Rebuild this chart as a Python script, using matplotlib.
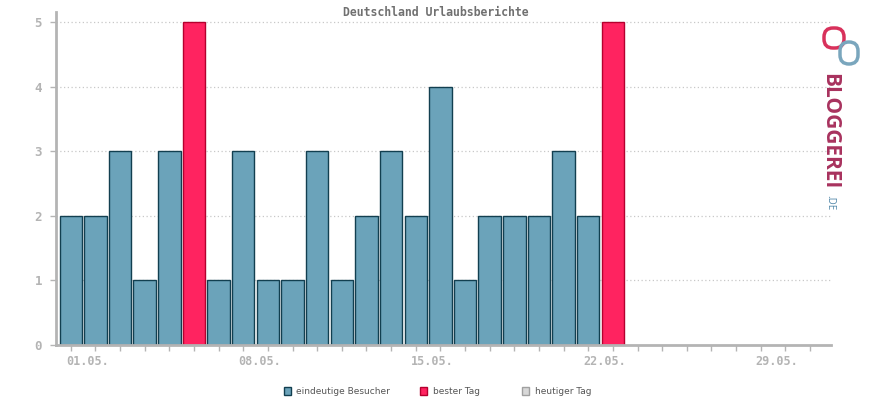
import matplotlib
matplotlib.use('Agg')
import matplotlib.pyplot as plt
import matplotlib.transforms as mtransforms
from matplotlib.patches import Rectangle, FancyBboxPatch

# Data: unique visitors per day in May
days = list(range(1, 24))
visitors = [2, 2, 3, 1, 3, 5, 1, 3, 1, 1, 3, 1, 2, 3, 2, 4, 1, 2, 2, 2, 3, 2, 5]
best_days = [6, 23]
tick_days = [1, 8, 15, 22, 29]
tick_labels = ['01.05.', '08.05.', '15.05.', '22.05.', '29.05.']
y_ticks = [0, 1, 2, 3, 4, 5]
legend_labels = ['eindeutige Besucher', 'bester Tag', 'heutiger Tag']

blue = '#6ba3ba'
blue_edge = '#123f50'
red = '#ff2360'
red_edge = '#b5002e'
axis_gray = '#b4b4b4'
mono = 'DejaVu Sans Mono'

fig = plt.figure(figsize=(8.7, 4.0), dpi=100)
ax = fig.add_axes([56/870, 55/400, (831-56)/870, (345-12)/400])

colors = [red if d in best_days else blue for d in days]
edges = [red_edge if d in best_days else blue_edge for d in days]
ax.bar(days, visitors, width=0.91, color=colors, edgecolor=edges, linewidth=1.0, zorder=3)

ax.set_xlim(0.40, 31.85)
ax.set_ylim(0, 5.155)

# grid
for y in y_ticks[1:]:
    ax.axhline(y, color='#c8c8c8', linestyle=(0, (1, 2)), linewidth=0.9, zorder=1)

for s in ['top', 'right']:
    ax.spines[s].set_visible(False)
for s in ['left', 'bottom']:
    ax.spines[s].set_color(axis_gray)
    ax.spines[s].set_linewidth(2)
    ax.spines[s].set_zorder(4)

ax.set_yticks(y_ticks)
ax.set_yticklabels([str(v) for v in y_ticks], fontfamily=mono, fontweight='bold',
                   fontsize=9, color='#b4b4b4')
ax.tick_params(axis='y', length=4, width=1, color=axis_gray, pad=6)

ax.set_xticks(range(1, 32))
ax.set_xticklabels([tick_labels[tick_days.index(d)] if d in tick_days else '' for d in range(1, 32)],
                   fontfamily=mono, fontweight='bold', fontsize=8.5, color='#b4b4b4', ha='left')
ax.tick_params(axis='x', length=4, width=1, color=axis_gray, pad=3, direction='out')
offset = mtransforms.ScaledTranslation(-5/100, 0, fig.dpi_scale_trans)
for lbl in ax.get_xticklabels():
    lbl.set_transform(lbl.get_transform() + offset)

fig.text(436/870, 1 - 12/400, 'Deutschland Urlaubsberichte', ha='center', va='center',
         fontfamily=mono, fontweight='bold', fontsize=8.3, color='#707070')

# legend
leg_y = 1 - 391/400
items = [(288, 296, blue, blue_edge), (424, 433, red, red_edge), (526, 535, '#d8d8d8', '#a0a0a0')]
for (sx, tx, fc, ec), lab in zip(items, legend_labels):
    fig.patches.append(Rectangle((sx/870 - 3.5/870, leg_y - 4/400), 7/870, 8/400,
                                 transform=fig.transFigure, facecolor=fc, edgecolor=ec,
                                 linewidth=1))
    fig.text(tx/870, leg_y, lab, ha='left', va='center', fontsize=6.5, color='#555555',
             fontfamily='DejaVu Sans')

# logo
fig.text(830/870, 1 - 131/400, 'BLOGGEREI', rotation=-90, ha='center', va='center',
         fontsize=15, fontweight='bold', color='#a8325e', fontfamily='Open Sans')
fig.text(830/870, 1 - 203/400, '.DE', rotation=-90, ha='center', va='center',
         fontsize=7, color='#4f86a8', fontfamily='Open Sans')
logo = fig.add_axes([818/870, 1 - 72/400, 48/870, 52/400])
logo.axis('off')
logo.set_xlim(0, 48)
logo.set_ylim(0, 52)
logo.add_patch(FancyBboxPatch((6, 24), 20, 20, boxstyle='round,pad=0,rounding_size=9',
                              fill=False, edgecolor='#d8315b', linewidth=2.5))
logo.add_patch(FancyBboxPatch((22, 8), 18, 22, boxstyle='round,pad=0,rounding_size=9',
                              fill=False, edgecolor='#7aa6bd', linewidth=2.5))

fig.savefig('out.png', dpi=100)
